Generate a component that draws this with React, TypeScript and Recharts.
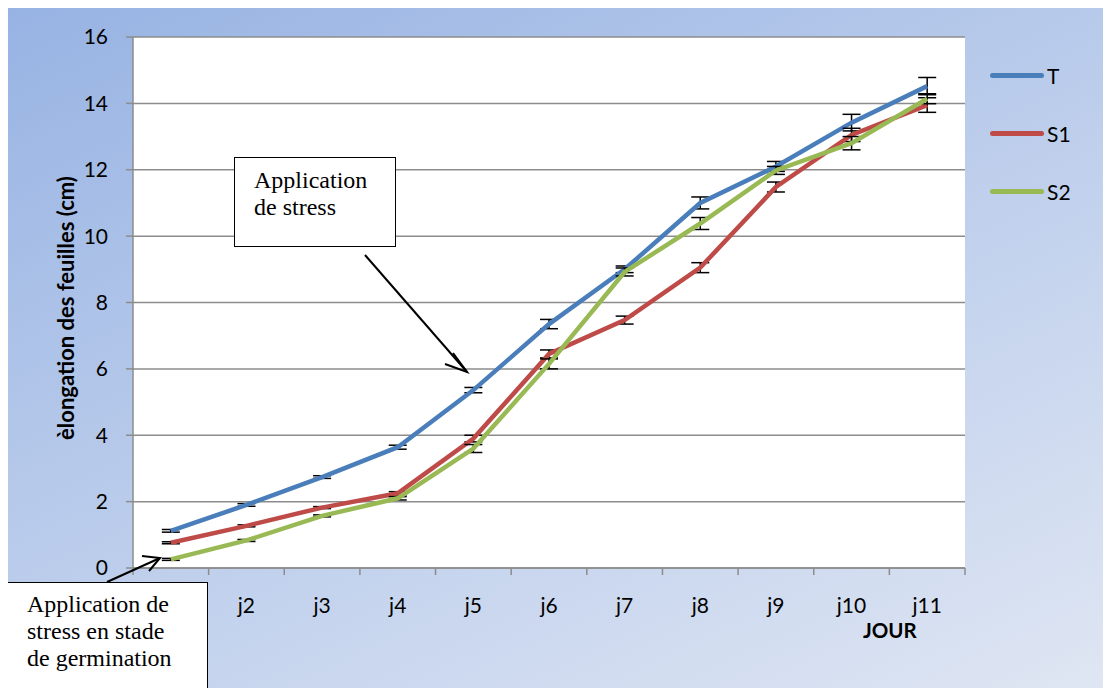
import React from 'react';
import { LineChart, Line, XAxis, YAxis, CartesianGrid, ErrorBar } from 'recharts';

// days (j1 label is hidden under the callout box in the original)
const days = ['j1', 'j2', 'j3', 'j4', 'j5', 'j6', 'j7', 'j8', 'j9', 'j10', 'j11'];

// leaf elongation (cm)
const tValues = [1.12, 1.9, 2.74, 3.64, 5.36, 7.35, 9.0, 11.0, 12.1, 13.42, 14.52];
const s1Values = [0.76, 1.27, 1.82, 2.25, 3.9, 6.45, 7.47, 9.05, 11.48, 13.05, 13.95];
const s2Values = [0.26, 0.83, 1.57, 2.1, 3.6, 6.15, 8.92, 10.38, 11.98, 12.8, 14.14];

// error bar half-widths
const tErrors = [0.04, 0.04, 0.04, 0.06, 0.08, 0.14, 0.1, 0.18, 0.15, 0.25, 0.26];
const s1Errors = [0.03, 0.03, 0.03, 0.05, 0.1, 0.12, 0.12, 0.15, 0.15, 0.2, 0.22];
const s2Errors = [0.03, 0.03, 0.03, 0.05, 0.12, 0.15, 0.12, 0.18, 0.12, 0.2, 0.15];

const yTicks = [0, 2, 4, 6, 8, 10, 12, 14, 16];
const dayEdges = days.map((_, i) => i + 0.5).concat([days.length + 0.5]);

const series = [
  { key: 'T', err: 'tErr', color: '#4a7ebb' },
  { key: 'S1', err: 's1Err', color: '#be4b48' },
  { key: 'S2', err: 's2Err', color: '#98b954' },
];

const data = days.map((d, i) => ({
  x: i + 1,
  day: d,
  T: tValues[i],
  S1: s1Values[i],
  S2: s2Values[i],
  tErr: tErrors[i],
  s1Err: s1Errors[i],
  s2Err: s2Errors[i],
}));

const CHART_W = 1103;
const CHART_H = 680;
const PLOT_W = 832;
const FONT = 'Lato, "Open Sans", sans-serif';
const SERIF = '"Liberation Serif", "Times New Roman", serif';

function DayTick(props: any) {
  const { x, y, payload } = props;
  const i = Math.round(payload.value - 0.5);
  // j1 sits under the callout box, so it is not drawn
  if (i < 1 || i >= days.length) return null;
  const half = PLOT_W / days.length / 2;
  return (
    <text x={x + half} y={y} dy={36} textAnchor="middle" fontSize={21} fontFamily={FONT} fill="#000">
      {days[i]}
    </text>
  );
}

function YTitle() {
  const cx = 57;
  const cy = 300;
  return (
    <text
      x={cx}
      y={cy}
      transform={`rotate(-90, ${cx}, ${cy})`}
      textAnchor="middle"
      dominantBaseline="central"
      fontSize={22}
      fontWeight={700}
      fontFamily={FONT}
      fill="#000"
    >
      èlongation des feuilles (cm)
    </text>
  );
}

const calloutStyle: React.CSSProperties = {
  position: 'absolute',
  border: '1px solid #000',
  background: '#fff',
  fontFamily: SERIF,
  fontSize: 24,
  lineHeight: '27px',
  boxSizing: 'border-box',
  whiteSpace: 'nowrap',
};

export default function App() {
  return (
    <div
      style={{
        position: 'relative',
        width: CHART_W,
        height: CHART_H,
        background: 'linear-gradient(155deg, #97b3e3 0%, #b9cbeb 45%, #dfe6f3 100%)',
        overflow: 'hidden',
      }}
    >
      <div
        style={{
          position: 'absolute',
          left: -1,
          top: -1,
          right: 0,
          bottom: 0,
          borderTop: '1px solid #8a8a8a',
          borderLeft: '1px solid #8a8a8a',
          pointerEvents: 'none',
        }}
      />
      <LineChart
        width={CHART_W}
        height={CHART_H}
        data={data}
        margin={{ top: 29, right: 146, left: 0, bottom: 80 }}
      >
        <CartesianGrid vertical={false} fill="#fff" stroke="#8c8c8c" strokeWidth={1.5} />
        <XAxis
          dataKey="x"
          type="number"
          domain={[0.5, days.length + 0.5]}
          ticks={dayEdges}
          interval={0}
          tick={<DayTick />}
          tickSize={7}
          height={40}
          axisLine={{ stroke: '#8c8c8c', strokeWidth: 1.5 }}
          tickLine={{ stroke: '#8c8c8c', strokeWidth: 1.5 }}
        />
        <YAxis
          domain={[0, 16]}
          ticks={yTicks}
          interval={0}
          width={125}
          tickSize={7}
          tickMargin={18}
          tick={{ fontSize: 21, fontFamily: FONT, fill: '#000' }}
          axisLine={{ stroke: '#8c8c8c', strokeWidth: 1.5 }}
          tickLine={{ stroke: '#8c8c8c', strokeWidth: 1.5 }}
          label={{ position: 'center', content: <YTitle /> }}
        />
        {series.map((s) => (
          <Line
            key={s.key}
            dataKey={s.key}
            name={s.key}
            stroke={s.color}
            strokeWidth={4.5}
            dot={false}
            type="linear"
            isAnimationActive={false}
          >
            <ErrorBar dataKey={s.err} direction="y" width={9} stroke="#000" strokeWidth={1.5} />
          </Line>
        ))}
      </LineChart>

      {/* legend */}
      <div style={{ position: 'absolute', left: 982, top: 38, fontFamily: FONT, fontSize: 21 }}>
        {series.map((s) => (
          <div key={s.key} style={{ display: 'flex', alignItems: 'center', height: 58 }}>
            <div style={{ width: 54, height: 5, borderRadius: 3, background: s.color, marginRight: 3 }} />
            <span>{s.key}</span>
          </div>
        ))}
      </div>

      <div
        style={{
          position: 'absolute',
          left: 863 - 8,
          top: 618 - 8,
          fontFamily: FONT,
          fontWeight: 700,
          fontSize: 20.5,
        }}
      >
        JOUR
      </div>

      {/* callouts */}
      <div
        style={{
          ...calloutStyle,
          left: 234 - 8,
          top: 157 - 8,
          width: 162,
          height: 90,
          padding: '9px 0 0 19px',
        }}
      >
        Application
        <br />
        de stress
      </div>
      <div
        style={{
          ...calloutStyle,
          left: 7 - 8,
          top: 582 - 8,
          width: 201,
          height: 120,
          padding: '8px 0 0 19px',
        }}
      >
        Application de
        <br />
        stress en stade
        <br />
        de germination
      </div>
      <svg
        width={CHART_W}
        height={CHART_H}
        style={{ position: 'absolute', left: 0, top: 0, pointerEvents: 'none' }}
      >
        <g stroke="#000" strokeWidth={2} fill="none">
          <line x1={357} y1={247} x2={459} y2={364} />
          <polyline points="445,345 459,364 437,356" />
          <line x1={99} y1={574} x2={152} y2={550} />
          <polyline points="134,548 152,550 141,563" />
        </g>
      </svg>
    </div>
  );
}
